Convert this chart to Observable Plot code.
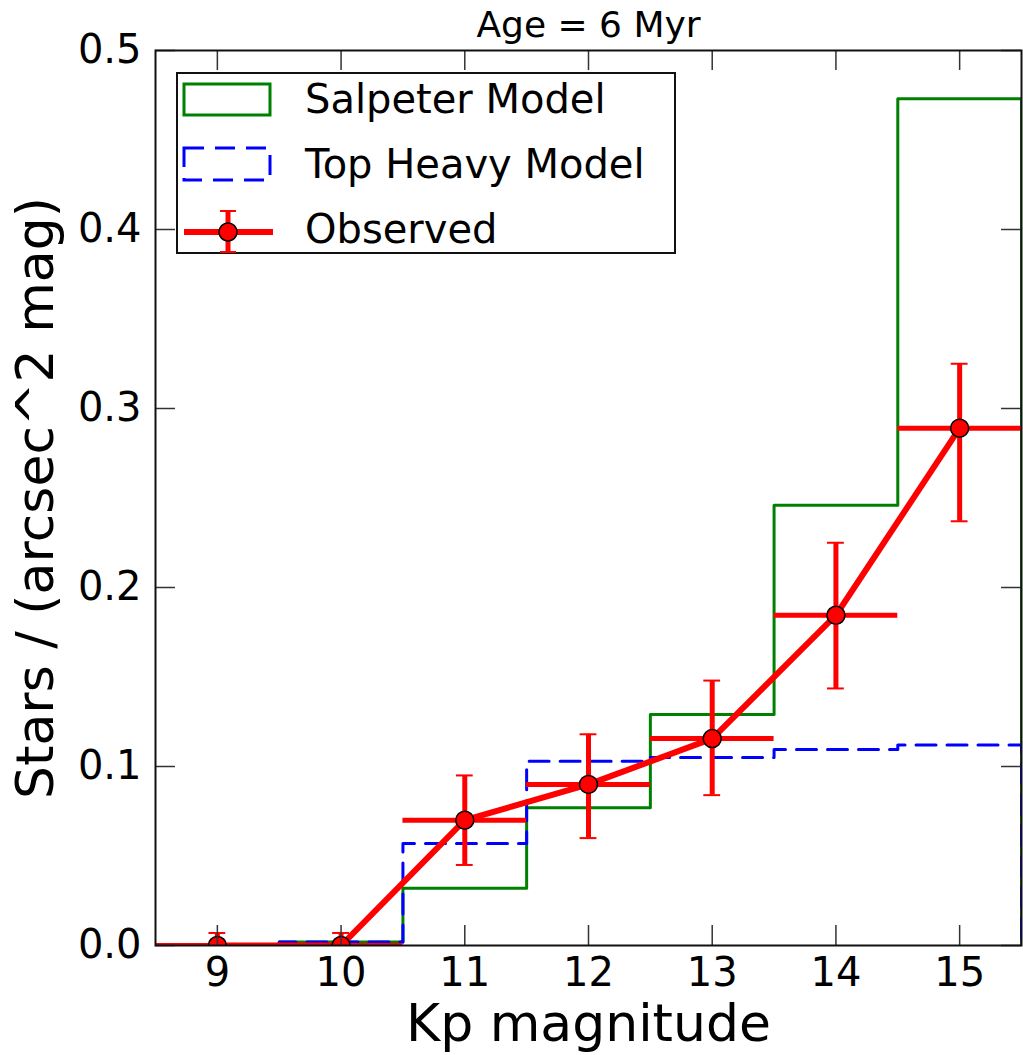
<!DOCTYPE html>
<html>
<head>
<meta charset="utf-8">
<script src="https://cdn.jsdelivr.net/npm/d3@7"></script>
<script src="https://cdn.jsdelivr.net/npm/@observablehq/plot@0.6"></script>
<style>
  html, body { margin: 0; padding: 0; background: #fff; }
  #wrap { position: relative; width: 1023px; height: 1055px; }
  #legend { position: absolute; left: 176px; top: 72px; }
</style>
</head>
<body>
<div id="wrap"></div>
<script>
// ---- data ----
const mags = [9, 10, 11, 12, 13, 14, 15];
const salpeter = [0, 0.002, 0.032, 0.077, 0.129, 0.246, 0.473];
const topHeavy = [0, 0.002, 0.057, 0.103, 0.105, 0.1095, 0.112];
const observed = [0, 0, 0.070, 0.090, 0.1156, 0.1845, 0.289];
const obsLow = [-0.007, -0.007, 0.045, 0.060, 0.084, 0.1436, 0.237];
const obsHigh = [0.007, 0.007, 0.095, 0.118, 0.148, 0.225, 0.325];
const xTicks = [9, 10, 11, 12, 13, 14, 15];
const yTicks = [0.0, 0.1, 0.2, 0.3, 0.4, 0.5];
const title = "Age = 6 Myr";
const xLabel = "Kp magnitude";
const yLabel = "Stars / (arcsec^2 mag)";
const legendLabels = ["Salpeter Model", "Top Heavy Model", "Observed"];

// ---- layout ----
const W = 1023, H = 1055;
const mL = 155, mR = 2, mT = 50, mB = 110;
const plotW = W - mL - mR, plotH = H - mT - mB;
const binHalf = 0.5;
const capHalf = 0.068;

function stepData(vals) {
  const pts = [{x: mags[0] - binHalf, y: 0}];
  vals.forEach((v, i) => pts.push({x: mags[i] - binHalf, y: v}));
  pts.push({x: mags[mags.length - 1] + binHalf, y: vals[vals.length - 1]});
  pts.push({x: mags[mags.length - 1] + binHalf, y: 0});
  return pts;
}
const obs = mags.map((m, i) => ({m, y: observed[i], lo: obsLow[i], hi: obsHigh[i]}));

const green = "#008000", blue = "#0000ff", red = "#ff0000";

const plot = Plot.plot({
  width: W, height: H,
  marginLeft: mL, marginRight: mR, marginTop: mT, marginBottom: mB,
  style: {fontFamily: "DejaVu Sans", background: "white", color: "#000"},
  x: {domain: [8.5, 15.5]},
  y: {domain: [0, 0.5]},
  marks: [
    Plot.line(stepData(salpeter), {x: "x", y: "y", curve: "step-after", stroke: green, strokeWidth: 3, clip: true}),
    Plot.line(stepData(topHeavy), {x: "x", y: "y", curve: "step-after", stroke: blue, strokeWidth: 3, strokeDasharray: "20,11", clip: true}),
    Plot.line(obs, {x: "m", y: "y", stroke: red, strokeWidth: 6, clip: true}),
    Plot.ruleX(obs, {x: "m", y1: "lo", y2: "hi", stroke: red, strokeWidth: 5, clip: true}),
    Plot.ruleY(obs, {y: "y", x1: d => d.m - binHalf, x2: d => d.m + binHalf, stroke: red, strokeWidth: 5, clip: true}),
    Plot.ruleY(obs, {y: "hi", x1: d => d.m - capHalf, x2: d => d.m + capHalf, stroke: red, strokeWidth: 2, clip: true}),
    Plot.ruleY(obs, {y: "lo", x1: d => d.m - capHalf, x2: d => d.m + capHalf, stroke: red, strokeWidth: 2, clip: true}),
    Plot.dot(obs, {x: "m", y: "y", r: 9, fill: red, stroke: "#000", strokeWidth: 1.5, clip: true}),
    // inward ticks on all four sides
    Plot.tickX(xTicks, {x: d => d, insetTop: plotH - 20, stroke: "#333", strokeWidth: 1.5}),
    Plot.tickX(xTicks, {x: d => d, insetBottom: plotH - 20, stroke: "#333", strokeWidth: 1.5}),
    Plot.tickY(yTicks, {y: d => d, insetRight: plotW - 20, stroke: "#333", strokeWidth: 1.5}),
    Plot.tickY(yTicks, {y: d => d, insetLeft: plotW - 20, stroke: "#333", strokeWidth: 1.5}),
    Plot.frame({stroke: "#111", strokeWidth: 2}),
    Plot.axisX(xTicks, {tickSize: 0, tickPadding: 12, fontSize: 40, label: null, tickFormat: d => String(d)}),
    Plot.axisY(yTicks, {tickSize: 0, tickPadding: 14, fontSize: 40, label: null, tickFormat: d3.format(".1f")}),
    Plot.text([title], {frameAnchor: "top", dy: -14, lineAnchor: "bottom", fontSize: 36}),
    Plot.text([xLabel], {frameAnchor: "bottom", dy: 79, textAnchor: "middle", lineAnchor: "middle", fontSize: 52}),
    Plot.text([yLabel], {frameAnchor: "left", dx: -119, rotate: -90, textAnchor: "middle", lineAnchor: "middle", fontSize: 52})
  ]
});
document.getElementById("wrap").appendChild(plot);

// ---- legend ----
const lg = d3.select("#wrap").append("svg").attr("id", "legend")
  .attr("width", 500).attr("height", 182)
  .style("font-family", "DejaVu Sans");
lg.append("rect").attr("x", 1).attr("y", 1).attr("width", 498).attr("height", 180)
  .attr("fill", "white").attr("stroke", "#111").attr("stroke-width", 2);
lg.append("rect").attr("x", 8).attr("y", 12).attr("width", 86).attr("height", 31)
  .attr("fill", "none").attr("stroke", green).attr("stroke-width", 3);
lg.append("rect").attr("x", 8).attr("y", 76).attr("width", 86).attr("height", 32)
  .attr("fill", "none").attr("stroke", blue).attr("stroke-width", 3).attr("stroke-dasharray", "20,11");
lg.append("line").attr("x1", 8).attr("x2", 97).attr("y1", 160).attr("y2", 160)
  .attr("stroke", red).attr("stroke-width", 6);
lg.append("line").attr("x1", 52).attr("x2", 52).attr("y1", 139).attr("y2", 181)
  .attr("stroke", red).attr("stroke-width", 5);
[139, 180].forEach(y => lg.append("line").attr("x1", 44).attr("x2", 60).attr("y1", y).attr("y2", y)
  .attr("stroke", red).attr("stroke-width", 2));
lg.append("circle").attr("cx", 52).attr("cy", 160).attr("r", 9)
  .attr("fill", red).attr("stroke", "#000").attr("stroke-width", 1.5);
[41, 106, 171].forEach((y, i) => lg.append("text").attr("x", 129).attr("y", y)
  .attr("font-size", 40).attr("fill", "#000").text(legendLabels[i]));
</script>
</body>
</html>
